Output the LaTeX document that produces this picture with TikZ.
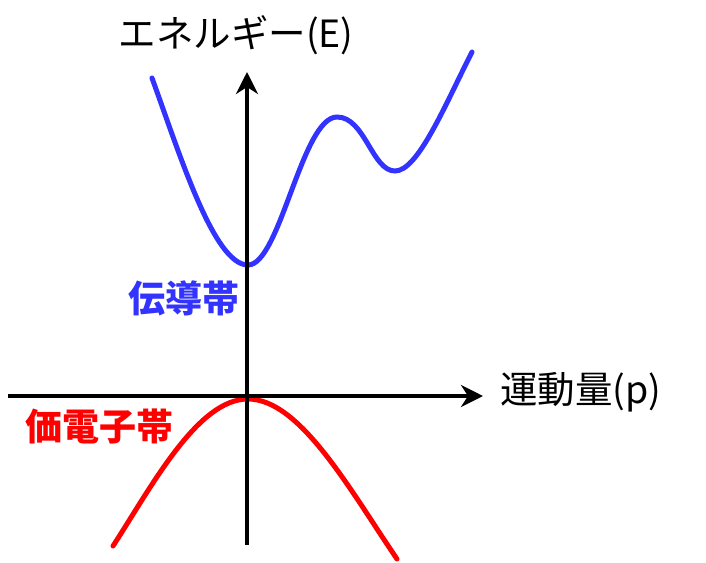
\documentclass[tikz,border=0pt]{standalone}
\usepackage{fontspec}
\setmainfont{Noto Sans CJK JP}
\usetikzlibrary{arrows.meta}
\definecolor{bandblue}{RGB}{51,51,255}
\definecolor{bandred}{RGB}{255,0,0}
\tikzset{
  axisline/.style={line width=4pt, -{Stealth[length=22pt,width=22pt,inset=7pt]}},
  bandcurve/.style={line width=5pt, line cap=round},
  axislabel/.style={inner sep=0pt, font=\fontsize{37.5}{40}\selectfont},
  bandlabel/.style={inner sep=0pt, font=\fontsize{37}{40}\selectfont\bfseries},
}
\begin{document}
\begin{tikzpicture}[x=1pt,y=-1pt]
\useasboundingbox (0,0) rectangle (706,562);
% conduction band
\coordinate (b0) at (152,78);
\coordinate (b1) at (248,265);
\coordinate (b2) at (337,117);
\coordinate (b3) at (395,171);
\coordinate (b4) at (472,52);
\draw[bandcurve, bandblue] (b0) .. controls (180,155) and (214,265) .. (b1)
  .. controls (280,265) and (302,117) .. (b2)
  .. controls (365,117) and (372,171) .. (b3)
  .. controls (418,171) and (445,105) .. (b4);
% valence band
\coordinate (r0) at (113,546);
\coordinate (r1) at (248,399);
\coordinate (r2) at (397,559);
\draw[bandcurve, bandred] (r0) .. controls (153,484) and (198,399) .. (r1)
  .. controls (300,399) and (350,490) .. (r2);
% axes
\coordinate (ybot) at (247,545);
\coordinate (ytop) at (247,72);
\coordinate (xleft) at (8,396);
\coordinate (xright) at (483,396);
\draw[axisline] (ybot) -- (ytop);
\draw[axisline] (xleft) -- (xright);
% labels
\node[axislabel] (elabel) at (236,35) {エネルギー(E)};
\node[axislabel] (plabel) at (581,392) {運動量(p)};
\node[bandlabel, text=bandblue] (cband) at (184,298) {伝導帯};
\node[bandlabel, text=bandred] (vband) at (99,427) {価電子帯};
\end{tikzpicture}
\end{document}
